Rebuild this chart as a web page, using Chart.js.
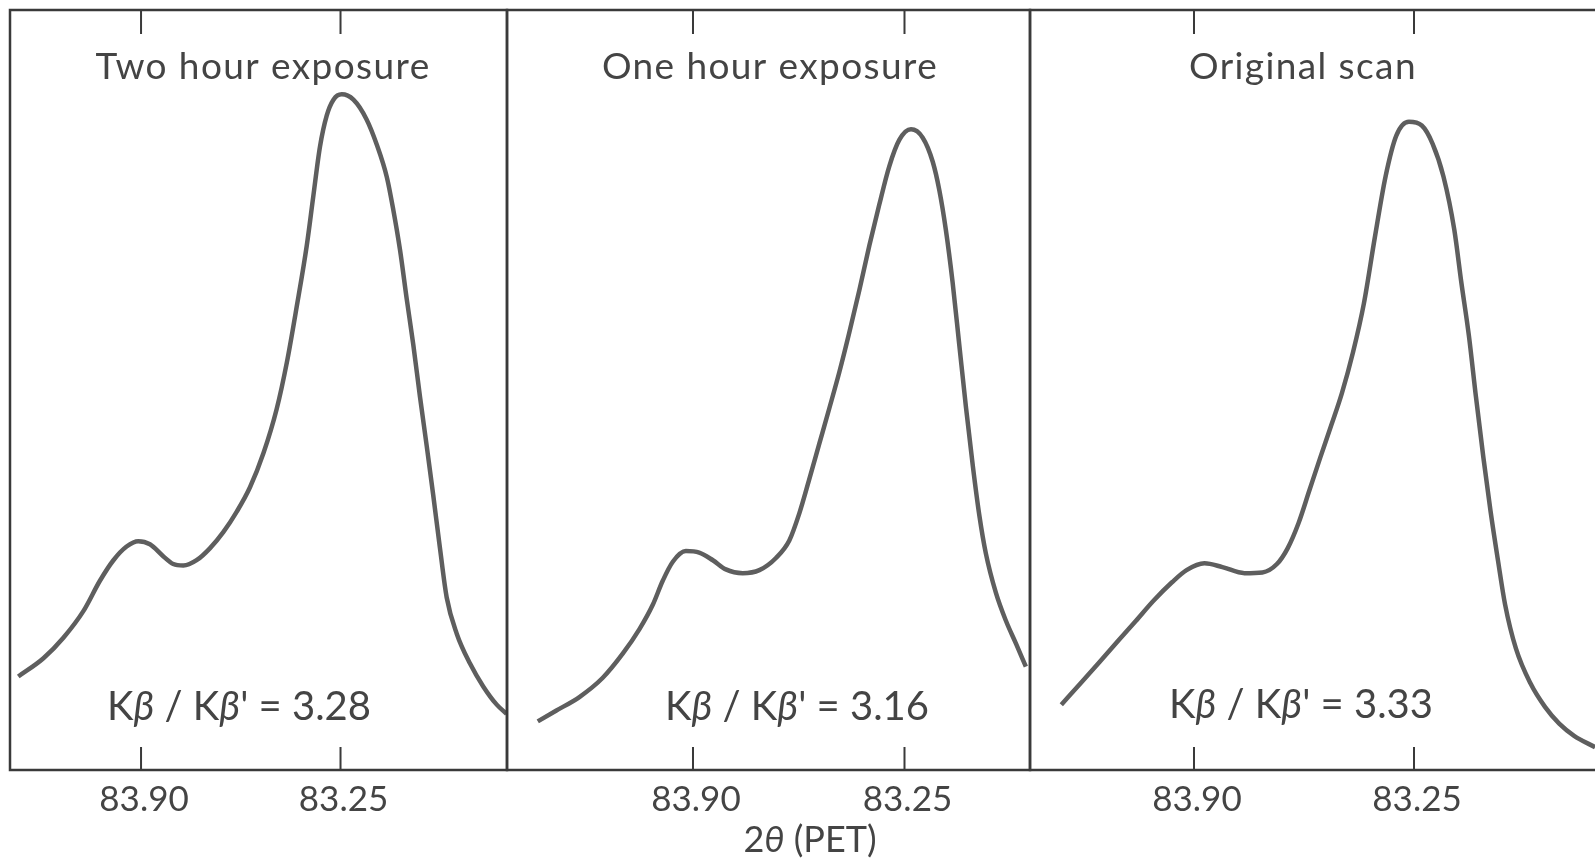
<!DOCTYPE html>
<html>
<head>
<meta charset="utf-8">
<title>K-beta scans</title>
<script src="https://cdn.jsdelivr.net/npm/chart.js@4.4.1/dist/chart.umd.min.js"></script>
<style>
    html, body { margin: 0; padding: 0; background: #fff; overflow: hidden; }
    body { width: 1595px; height: 866px; position: relative; }
    .panel { position: absolute; top: 0; height: 866px; }
</style>
</head>
<body>
<div class="panel" id="p1" style="left:5px;width:507px"><canvas id="c1"></canvas></div>
<div class="panel" id="p2" style="left:502px;width:533px"><canvas id="c2"></canvas></div>
<div class="panel" id="p3" style="left:1025px;width:580px"><canvas id="c3"></canvas></div>
<script>
// 2theta (PET) tick marks shared by all panels
const tickValues = [83.90, 83.25];
const tickLabels = ['83.90', '83.25'];
const panelTitles = ['Two hour exposure', 'One hour exposure', 'Original scan'];
const ratioValues = ['3.28', '3.16', '3.33'];

// Two hour exposure
const twoHourTheta = [84.300, 84.218, 84.153, 84.088, 84.034, 83.990, 83.947, 83.909, 83.871, 83.827,
    83.795, 83.762, 83.719, 83.675, 83.632, 83.588, 83.545, 83.501, 83.458, 83.425, 83.393, 83.360,
    83.339, 83.317, 83.295, 83.273, 83.246, 83.208, 83.165, 83.132, 83.099, 83.078, 83.056, 83.034,
    83.013, 82.991, 82.969, 82.948, 82.926, 82.904, 82.871, 82.828, 82.785, 82.741, 82.709];
const twoHourCounts = [12.3, 14.7, 17.4, 20.9, 24.9, 27.6, 29.4, 30.1, 29.7, 28.1,
    27.1, 26.9, 27.6, 29.2, 31.3, 34.0, 37.2, 41.7, 47.5, 53.6, 60.9, 69.0,
    75.4, 82.0, 86.1, 88.2, 88.9, 88.2, 85.6, 82.3, 78.0, 73.7, 68.4, 61.9,
    56.0, 49.1, 42.6, 36.2, 29.2, 22.7, 17.9, 14.0, 11.0, 8.6, 7.4];

// One hour exposure
const oneHourTheta = [84.377, 84.321, 84.249, 84.178, 84.116, 84.065, 84.024, 83.993, 83.962, 83.922,
    83.881, 83.839, 83.799, 83.747, 83.696, 83.645, 83.604, 83.573, 83.543, 83.512, 83.481, 83.450,
    83.420, 83.389, 83.358, 83.328, 83.297, 83.266, 83.230, 83.194, 83.163, 83.143, 83.123, 83.102,
    83.082, 83.061, 83.040, 83.020, 83.000, 82.969, 82.938, 82.907, 82.877];
const oneHourCounts = [6.4, 7.8, 9.6, 12.1, 15.3, 18.5, 21.7, 24.9, 27.4, 28.8,
    28.6, 27.6, 26.4, 25.9, 26.3, 27.9, 30.2, 33.8, 38.2, 42.9, 47.6, 52.4,
    57.5, 63.1, 69.0, 74.3, 79.4, 82.9, 84.3, 83.2, 80.0, 76.3, 71.1, 64.1,
    56.1, 47.7, 40.0, 33.5, 28.5, 23.3, 19.6, 16.6, 13.6];

// Original scan
const originalTheta = [84.292, 84.233, 84.179, 84.126, 84.072, 84.019, 83.965, 83.922, 83.869, 83.816,
    83.751, 83.698, 83.655, 83.623, 83.591, 83.559, 83.527, 83.495, 83.463, 83.430, 83.398, 83.366,
    83.334, 83.302, 83.265, 83.227, 83.195, 83.163, 83.131, 83.110, 83.088, 83.067, 83.045, 83.024,
    83.002, 82.981, 82.949, 82.906, 82.863, 82.821, 82.777, 82.715];
const originalCounts = [8.6, 11.5, 14.2, 16.9, 19.6, 22.3, 24.7, 26.3, 27.2, 26.7,
    25.9, 26.0, 27.1, 29.2, 32.5, 36.8, 41.1, 45.3, 49.6, 55.0, 61.4, 70.0,
    78.1, 83.5, 85.3, 84.8, 82.4, 78.1, 71.1, 64.1, 57.2, 49.1, 41.1, 34.1,
    27.6, 21.8, 16.0, 11.4, 8.3, 6.1, 4.5, 3.0];

// axis limits for each panel (x axis runs high -> low)
const panelXMin = [82.7075, 82.8643, 82.7005];
const panelXMax = [84.327, 84.4716, 84.3845];

const INK = '#3a3a3a';
const FONT = 'Lato, "DejaVu Sans", sans-serif';

// draws the frame, inward ticks, labels and annotations
const framePlugin = {
    id: 'panelFrame',
    afterDraw(chart, args, opts) {
        const ctx = chart.ctx;
        const { left, right, top, bottom } = chart.chartArea;
        const x = chart.scales.x;

        ctx.save();
        ctx.strokeStyle = INK;
        ctx.lineWidth = 2.5;
        ctx.strokeRect(left, top, right - left, bottom - top);

        ctx.lineWidth = 2;
        ctx.fillStyle = '#444';
        ctx.textAlign = 'center';
        ctx.textBaseline = 'alphabetic';
        tickValues.forEach((v, i) => {
            const px = x.getPixelForValue(v);
            ctx.beginPath();
            ctx.moveTo(px, top);
            ctx.lineTo(px, top + 24);
            ctx.moveTo(px, bottom);
            ctx.lineTo(px, bottom - 23);
            ctx.stroke();
            ctx.font = '35px ' + FONT;
            ctx.fillText(tickLabels[i], px + 3, bottom + 41);
        });

        // panel title
        ctx.font = '37px ' + FONT;
        ctx.letterSpacing = '1.4px';
        ctx.fillText(opts.title, left + opts.titleX, top + 69);
        ctx.letterSpacing = '0px';

        // K-beta ratio
        drawPieces(ctx, [
            ['K', false], ['β', true], [' / ', false], ['K', false], ['β', true], ["' = " + opts.ratio, false]
        ], left + opts.ratioX, opts.ratioY, 40);

        if (opts.axisTitle) {
            drawPieces(ctx, [['2', false], ['θ', true], [' (PET)', false]], left + opts.axisX, bottom + 82, 36);
        }
        ctx.restore();
    }
};

function drawPieces(ctx, pieces, cx, y, size) {
    ctx.textAlign = 'left';
    let total = 0;
    pieces.forEach(p => {
        ctx.font = (p[1] ? 'italic ' : '') + size + 'px ' + FONT;
        total += ctx.measureText(p[0]).width;
    });
    let px = cx - total / 2;
    pieces.forEach(p => {
        ctx.font = (p[1] ? 'italic ' : '') + size + 'px ' + FONT;
        ctx.fillText(p[0], px, y);
        px += ctx.measureText(p[0]).width;
    });
    ctx.textAlign = 'center';
}

function makePanel(canvasId, theta, counts, idx, extra) {
    const points = theta.map((t, i) => ({ x: t, y: counts[i] }));
    return new Chart(document.getElementById(canvasId), {
        type: 'line',
        data: {
            datasets: [{
                data: points,
                borderColor: '#5e5e5e',
                borderWidth: 4.5,
                pointRadius: 0,
                cubicInterpolationMode: 'monotone',
                fill: false
            }]
        },
        options: {
            responsive: true,
            maintainAspectRatio: false,
            animation: false,
            devicePixelRatio: 1,
            layout: { padding: { left: 5, right: 5, top: 10, bottom: 96 } },
            scales: {
                x: { type: 'linear', reverse: true, min: panelXMin[idx], max: panelXMax[idx], display: false },
                y: { min: 0, max: 100, display: false }
            },
            plugins: {
                legend: { display: false },
                tooltip: { enabled: false },
                panelFrame: Object.assign({ title: panelTitles[idx], ratio: ratioValues[idx] }, extra)
            }
        },
        plugins: [framePlugin]
    });
}

makePanel('c1', twoHourTheta, twoHourCounts, 0, { titleX: 253, ratioX: 229, ratioY: 720 });
makePanel('c2', oneHourTheta, oneHourCounts, 1, { titleX: 263, ratioX: 290, ratioY: 720, axisTitle: true, axisX: 303 });
makePanel('c3', originalTheta, originalCounts, 2, { titleX: 273, ratioX: 271, ratioY: 718 });
</script>
</body>
</html>
